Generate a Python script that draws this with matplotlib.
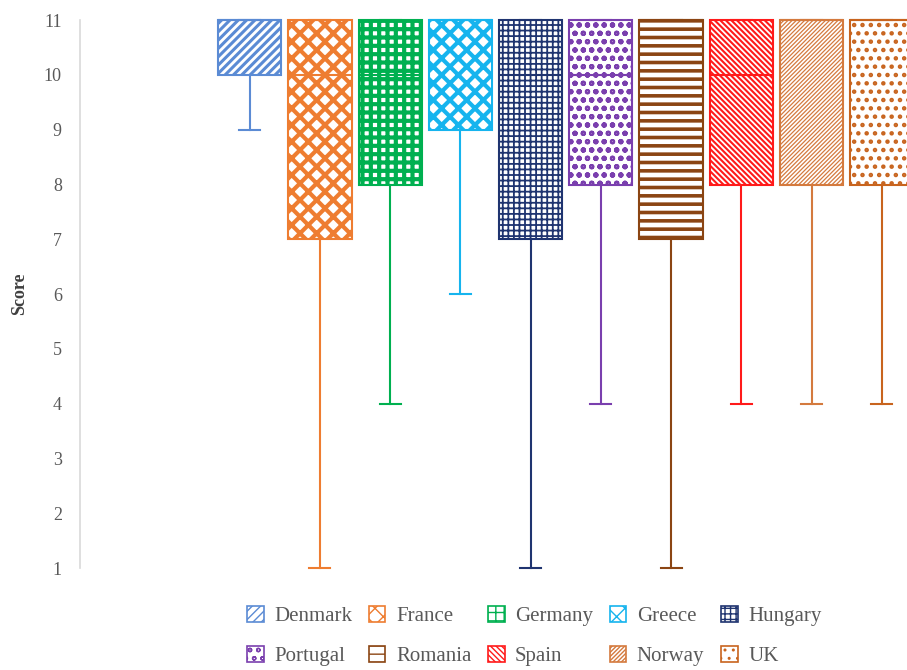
import matplotlib.pyplot as plt
from matplotlib.patches import Patch

plt.rcParams['font.family'] = ['Liberation Serif', 'DejaVu Serif']

# box statistics
countries = ['Denmark', 'France', 'Germany', 'Greece', 'Hungary',
             'Portugal', 'Romania', 'Spain', 'Norway', 'UK']
whis_low = [9, 1, 4, 6, 1, 4, 1, 4, 4, 4]
q1 = [10, 7, 8, 9, 7, 8, 7, 8, 8, 8]
median = [11, 10, 10, 11, 10, 10, 11, 10, 11, 11]
q3 = [11, 11, 11, 11, 11, 11, 11, 11, 11, 11]
whis_high = [11, 11, 11, 11, 11, 11, 11, 11, 11, 11]

colors = ['#5B8BD4', '#EE7D31', '#00B050', '#16B4EE', '#1F3470',
          '#7A3FAE', '#8B4513', '#FF1A1A', '#D47A3E', '#C8641E']
hatches = ['////', 'xx', '++', 'xx', '+++', 'oo', '--', '\\' * 6, '/' * 8, '..']
hatch_lw = [2.2, 3.0, 3.0, 3.0, 1.3, 1.5, 2.6, 1.5, 0.9, 2.0]

fig = plt.figure(figsize=(9.07, 6.7), dpi=100)
ax = fig.add_axes([0.088, 0.152, 0.912, 0.818])

handles = []
for i, name in enumerate(countries):
    st = dict(whislo=whis_low[i], q1=q1[i], med=median[i], q3=q3[i],
              whishi=whis_high[i], label=name)
    c = colors[i]
    art = ax.bxp([st], positions=[i + 1], widths=0.9, capwidths=0.3,
                 patch_artist=True, showfliers=False,
                 boxprops=dict(facecolor='white', edgecolor=c, linewidth=1.5, hatch=hatches[i]),
                 whiskerprops=dict(color=c, linewidth=1.5),
                 capprops=dict(color=c, linewidth=1.5),
                 medianprops=dict(color=c, linewidth=1.5))
    for b in art['boxes']:
        if hasattr(b, 'set_hatch_linewidth'):
            b.set_hatch_linewidth(hatch_lw[i])
    for key in ['boxes', 'whiskers', 'caps', 'medians']:
        for a in art[key]:
            a.set_clip_on(False)
    h = Patch(facecolor='white', edgecolor=c, hatch=hatches[i], linewidth=1.2)
    if hasattr(h, 'set_hatch_linewidth'):
        h.set_hatch_linewidth(min(hatch_lw[i], 2.0))
    handles.append(h)

ax.set_xlim(-1.42, 10.36)
ax.set_ylim(1, 11)
ax.set_yticks(range(1, 12))
ax.set_xticks([])
ax.tick_params(axis='y', length=0, labelsize=13, labelcolor='#595959', pad=13)
for s in ['top', 'right', 'bottom']:
    ax.spines[s].set_visible(False)
ax.spines['left'].set_color('#D9D9D9')
ax.spines['left'].set_linewidth(1.2)
ax.set_ylabel('Score', fontsize=13, fontweight='bold', color='#404040')
ax.yaxis.set_label_coords(-0.063, 0.5)

# legend: two rows, filled row by row
order = [0, 5, 1, 6, 2, 7, 3, 8, 4, 9]
fig.legend([handles[k] for k in order], [countries[k] for k in order],
           ncol=5, loc='center', bbox_to_anchor=(0.589, 0.051), frameon=False,
           fontsize=15, labelcolor='#595959', handlelength=0.8, handleheight=0.8,
           handletextpad=0.5, columnspacing=0.8, labelspacing=0.95)

fig.savefig('out.png', dpi=100)
